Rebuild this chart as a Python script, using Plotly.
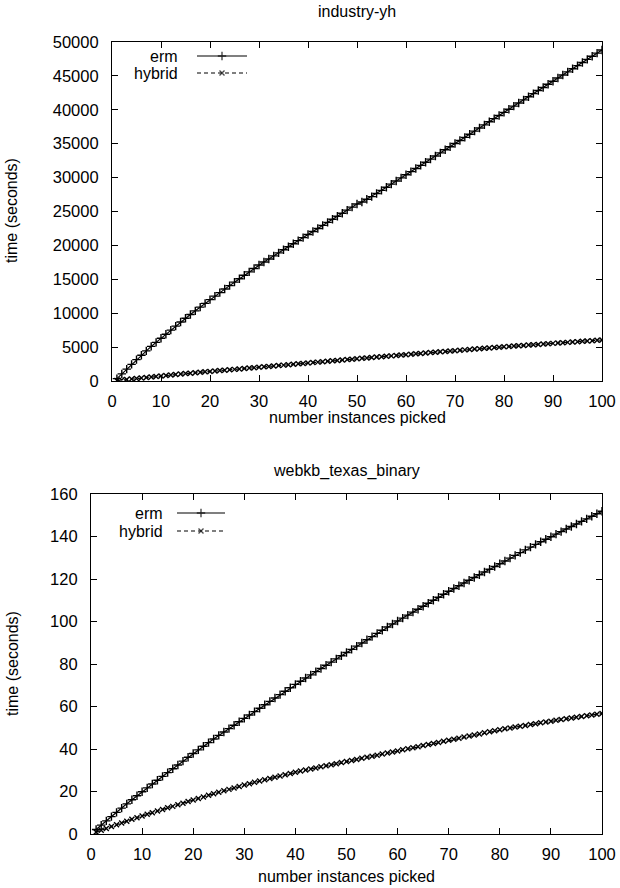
import plotly.graph_objects as go

# ---------------- data ----------------
instances = list(range(1, 101))

industry_erm = [
    350, 1050, 1750, 2450, 3150, 3800, 4450, 5100, 5700, 6300,
    6900, 7500, 8100, 8700, 9250, 9800, 10350, 10900, 11450, 12000,
    12520, 13040, 13560, 14070, 14580, 15090, 15600, 16100, 16600, 17100,
    17550, 18000, 18450, 18900, 19350, 19800, 20250, 20700, 21150, 21600,
    22050, 22500, 22950, 23400, 23850, 24300, 24750, 25200, 25650, 26100,
    26400, 26800, 27200, 27660, 28120, 28580, 29040, 29500, 29960, 30420,
    30880, 31340, 31800, 32260, 32720, 33180, 33640, 34100, 34560, 35020,
    35480, 35940, 36400, 36860, 37320, 37780, 38240, 38700, 39160, 39620,
    40080, 40540, 41000, 41460, 41920, 42380, 42840, 43300, 43760, 44220,
    44680, 45140, 45600, 46060, 46520, 46980, 47440, 47900, 48360, 48820,
]
industry_hybrid = [
    60, 140, 220, 300, 380, 455, 530, 605, 680, 750,
    820, 890, 960, 1025, 1090, 1155, 1220, 1285, 1350, 1410,
    1470, 1535, 1595, 1655, 1715, 1775, 1838, 1901, 1964, 2027,
    2090, 2153, 2216, 2279, 2342, 2405, 2468, 2531, 2594, 2657,
    2720, 2783, 2846, 2909, 2972, 3035, 3098, 3161, 3224, 3287,
    3347, 3407, 3467, 3527, 3587, 3647, 3707, 3767, 3827, 3887,
    3947, 4007, 4067, 4127, 4187, 4247, 4307, 4364, 4421, 4478,
    4535, 4592, 4649, 4706, 4763, 4820, 4877, 4934, 4991, 5048,
    5098, 5148, 5198, 5248, 5298, 5348, 5398, 5448, 5498, 5548,
    5598, 5648, 5698, 5748, 5798, 5848, 5898, 5948, 5998, 6048,
]
webkb_erm = [
    2.1, 4.2, 6.2, 8.2, 10.2, 12.2, 14.2, 16.1, 18.0, 19.9,
    21.7, 23.5, 25.3, 27.1, 28.9, 30.7, 32.5, 34.3, 36.1, 37.9,
    39.6, 41.3, 43.0, 44.7, 46.4, 48.0, 49.6, 51.2, 52.8, 54.4,
    56.0, 57.6, 59.2, 60.8, 62.4, 64.0, 65.6, 67.2, 68.8, 70.4,
    71.9, 73.4, 74.9, 76.4, 77.9, 79.4, 80.9, 82.4, 83.9, 85.4,
    86.9, 88.4, 89.9, 91.4, 92.9, 94.4, 95.9, 97.4, 98.8, 100.2,
    101.6, 103.0, 104.4, 105.8, 107.2, 108.6, 110.0, 111.4, 112.8, 114.2,
    115.5, 116.8, 118.1, 119.4, 120.7, 122.0, 123.3, 124.6, 125.9, 127.2,
    128.5, 129.8, 131.1, 132.4, 133.7, 135.0, 136.3, 137.5, 138.7, 139.9,
    141.1, 142.3, 143.5, 144.7, 145.9, 147.1, 148.3, 149.5, 150.7, 151.9,
]
webkb_hybrid = [
    0.9, 1.8, 2.6, 3.5, 4.3, 5.2, 6.0, 6.9, 7.7, 8.5,
    9.3, 10.0, 10.8, 11.5, 12.3, 13.0, 13.8, 14.5, 15.3, 16.0,
    16.7, 17.4, 18.2, 18.9, 19.6, 20.3, 21.0, 21.7, 22.4, 23.1,
    23.7, 24.3, 24.9, 25.5, 26.1, 26.7, 27.3, 27.9, 28.5, 29.1,
    29.6, 30.1, 30.6, 31.1, 31.6, 32.1, 32.6, 33.1, 33.6, 34.1,
    34.6, 35.1, 35.6, 36.1, 36.6, 37.1, 37.6, 38.1, 38.6, 39.1,
    39.6, 40.1, 40.6, 41.1, 41.6, 42.1, 42.6, 43.1, 43.6, 44.1,
    44.6, 45.1, 45.6, 46.1, 46.6, 47.1, 47.6, 48.1, 48.6, 49.1,
    49.5, 49.9, 50.3, 50.7, 51.1, 51.5, 51.9, 52.3, 52.7, 53.1,
    53.5, 53.9, 54.2, 54.6, 54.9, 55.3, 55.6, 56.0, 56.3, 56.7,
]

series_names = ["erm", "hybrid"]
panel_titles = ["industry-yh", "webkb_texas_binary"]
x_title = "number instances picked"
y_title = "time (seconds)"

# ---------------- styling ----------------
W, H = 620, 888
FONT = "Liberation Sans, Arial, Helvetica, sans-serif"
FS = 16
TFS = 16.5
BLACK = "#000000"
styles = {
    "erm": dict(dash="solid", symbol="cross-thin", size=6),
    "hybrid": dict(dash="4px,3px", symbol="x-thin", size=5),
}

fig = go.Figure()


def add_series(x, y, name, xa, ya):
    st = styles[name]
    fig.add_trace(go.Scatter(
        x=x, y=y, mode="lines+markers", name=name, showlegend=False,
        xaxis=xa, yaxis=ya,
        line=dict(color=BLACK, width=1.2, dash=st["dash"]),
        marker=dict(symbol=st["symbol"], size=st["size"], color=BLACK,
                    line=dict(color=BLACK, width=1.4)),
    ))


add_series(instances, industry_erm, "erm", "x", "y")
add_series(instances, industry_hybrid, "hybrid", "x", "y")
add_series(instances, webkb_erm, "erm", "x2", "y2")
add_series(instances, webkb_hybrid, "hybrid", "x2", "y2")

# legend samples drawn on a pixel overlay axis (x3/y3)
legend_rows = [
    (180, 197, 247, 56, "erm"),
    (180, 197, 247, 73, "hybrid"),
    (165, 177, 225, 513, "erm"),
    (165, 177, 225, 531, "hybrid"),
]
annotations = []
for tx, x0, x1, yy, name in legend_rows:
    st = styles[name]
    xm = (x0 + x1) / 2
    fig.add_trace(go.Scatter(
        x=[x0, xm, x1], y=[yy, yy, yy], mode="lines+markers", showlegend=False,
        xaxis="x3", yaxis="y3", hoverinfo="skip",
        line=dict(color=BLACK, width=1.2, dash=st["dash"]),
        marker=dict(symbol=st["symbol"], size=[0, st["size"], 0], color=BLACK,
                    line=dict(color=BLACK, width=1.4)),
    ))
    annotations.append(dict(
        text=name, x=tx / W, y=1 - yy / H, xref="paper", yref="paper",
        xanchor="right", yanchor="middle", showarrow=False,
        font=dict(family=FONT, size=FS, color=BLACK)))

for text, cx, cy, ang in [
    (panel_titles[0], 357, 12, 0),
    (panel_titles[1], 346.5, 471, 0),
    (x_title, 357, 418, 0),
    (x_title, 346.5, 876, 0),
    (y_title, 12, 211, -90),
    (y_title, 12, 664, -90),
]:
    annotations.append(dict(
        text=text, x=cx / W, y=1 - cy / H, xref="paper", yref="paper",
        xanchor="center", yanchor="middle", showarrow=False, textangle=ang,
        font=dict(family=FONT, size=FS, color=BLACK)))

axis_common = dict(
    showgrid=False, zeroline=False, showline=True, linecolor=BLACK, linewidth=1.2,
    mirror="allticks", ticks="inside", ticklen=6, tickcolor=BLACK, tickwidth=1,
    tickfont=dict(family=FONT, size=TFS, color=BLACK), automargin=False,
)

fig.update_layout(
    width=W, height=H,
    margin=dict(l=0, r=0, t=0, b=0, autoexpand=False),
    paper_bgcolor="white", plot_bgcolor="rgba(0,0,0,0)",
    showlegend=False,
    annotations=annotations,
    xaxis=dict(axis_common, domain=[112 / W, 602 / W], range=[0, 100], dtick=10,
               tick0=0, anchor="y", ticklabelstandoff=5),
    yaxis=dict(axis_common, domain=[1 - 381 / H, 1 - 42 / H], range=[0, 50000],
               dtick=5000, tick0=0, tickformat="d", anchor="x", ticklabelstandoff=9),
    xaxis2=dict(axis_common, domain=[91 / W, 602 / W], range=[0, 100], dtick=10,
                tick0=0, anchor="y2", ticklabelstandoff=5),
    yaxis2=dict(axis_common, domain=[1 - 834 / H, 1 - 494 / H], range=[0, 160],
                dtick=20, tick0=0, tickformat="d", anchor="x2", ticklabelstandoff=9),
    xaxis3=dict(domain=[0, 1], range=[0, W], visible=False, anchor="y3",
                fixedrange=True),
    yaxis3=dict(domain=[0, 1], range=[H, 0], visible=False, anchor="x3",
                fixedrange=True),
)

fig.write_html("out.html", config={"displayModeBar": False},
               post_script="document.body.style.margin='0';document.body.style.padding='0';")
